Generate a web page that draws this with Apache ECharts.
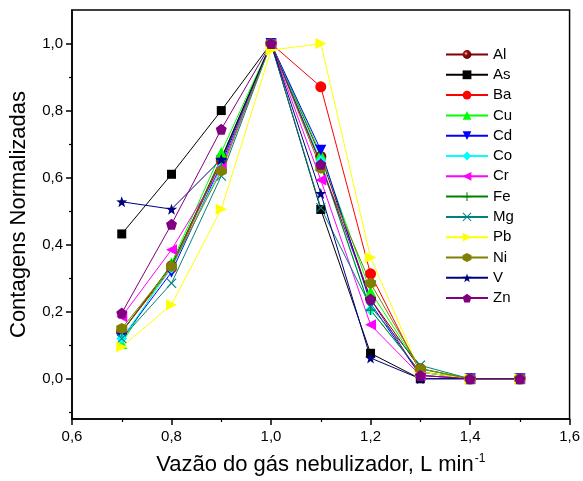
<!DOCTYPE html>
<html>
<head>
<meta charset="utf-8">
<script src="https://cdn.jsdelivr.net/npm/echarts@6/dist/echarts.min.js"></script>
<style>
  html, body { margin: 0; padding: 0; background: #fff; }
  #chart { width: 583px; height: 481px; }
</style>
</head>
<body>
<div id="chart"></div>
<script>
// Gas flow rates (L/min)
const flows = [0.7, 0.8, 0.9, 1.0, 1.1, 1.2, 1.3, 1.4, 1.5];

// Normalized counts per element
const Al = [0.140, 0.337, 0.658, 1.0, 0.663, 0.238, 0.030, 0, 0];
const As = [0.432, 0.610, 0.800, 1.0, 0.505, 0.076, 0.000, 0, 0];
const Ba = [0.140, 0.330, 0.650, 1.0, 0.871, 0.313, 0.020, 0, 0];
const Cu = [0.105, 0.345, 0.676, 1.0, 0.670, 0.260, 0.030, 0, 0];
const Cd = [0.120, 0.318, 0.640, 1.0, 0.682, 0.225, 0.010, 0, 0];
const Co = [0.120, 0.330, 0.630, 1.0, 0.650, 0.205, 0.020, 0, 0];
const Cr = [0.185, 0.385, 0.630, 1.0, 0.593, 0.161, 0.010, 0, 0];
const Fe = [0.140, 0.340, 0.650, 1.0, 0.643, 0.205, 0.020, 0, 0];
const Mg = [0.120, 0.285, 0.605, 1.0, 0.510, 0.215, 0.040, 0, 0];
const Pb = [0.095, 0.221, 0.506, 0.980, 1.0, 0.362, 0.020, 0, 0];
const Ni = [0.150, 0.335, 0.620, 1.0, 0.628, 0.285, 0.030, 0, 0];
const V  = [0.528, 0.506, 0.655, 1.0, 0.553, 0.062, 0.000, 0, 0];
const Zn = [0.196, 0.461, 0.744, 1.0, 0.640, 0.238, 0.010, 0, 0];

const yMajorTicks = [0, 0.2, 0.4, 0.6, 0.8, 1.0];
const yMinorTicks = [-0.1, 0.1, 0.3, 0.5, 0.7, 0.9];

// Marker shapes
const SYM = {
  triDown: 'path://M0,0L10,0L5,9Z',
  triLeft: 'path://M9,0L9,10L0,5Z',
  triRight: 'path://M0,0L0,10L9,5Z',
  plus: 'path://M4.4,0H5.6V4.4H10V5.6H5.6V10H4.4V5.6H0V4.4H4.4Z',
  cross: 'path://M0.8,0L5,4.2L9.2,0L10,0.8L5.8,5L10,9.2L9.2,10L5,5.8L0.8,10L0,9.2L4.2,5L0,0.8Z',
  hexagon: 'path://M5,0L9.33,2.5L9.33,7.5L5,10L0.67,7.5L0.67,2.5Z',
  star: 'path://M5,0L6.18,3.38L9.76,3.45L6.9,5.62L7.94,9.05L5,7L2.06,9.05L3.1,5.62L0.24,3.45L3.82,3.38Z',
  pentagon: 'path://M5,0L9.76,3.45L7.94,9.05L2.06,9.05L0.24,3.45Z'
};

const ball = {
  type: 'radial', x: 0.38, y: 0.38, r: 0.65,
  colorStops: [
    { offset: 0, color: '#ffe0e0' },
    { offset: 0.3, color: '#a01010' },
    { offset: 1, color: '#5a0000' }
  ]
};

const defs = [
  { name: 'Al', data: Al, color: '#800000', symbol: 'circle', size: 11, fill: ball },
  { name: 'As', data: As, color: '#000000', symbol: 'rect', size: 9 },
  { name: 'Ba', data: Ba, color: '#ff0000', symbol: 'circle', size: 11 },
  { name: 'Cu', data: Cu, color: '#00ff00', symbol: 'triangle', size: 11 },
  { name: 'Cd', data: Cd, color: '#0000ff', symbol: SYM.triDown, size: 11 },
  { name: 'Co', data: Co, color: '#00ffff', symbol: 'diamond', size: 11 },
  { name: 'Cr', data: Cr, color: '#ff00ff', symbol: SYM.triLeft, size: 11 },
  { name: 'Fe', data: Fe, color: '#008000', symbol: SYM.plus, size: 10 },
  { name: 'Mg', data: Mg, color: '#008080', symbol: SYM.cross, size: 10 },
  { name: 'Pb', data: Pb, color: '#ffff00', symbol: SYM.triRight, size: 11 },
  { name: 'Ni', data: Ni, color: '#808000', symbol: SYM.hexagon, size: 11 },
  { name: 'V',  data: V,  color: '#000080', symbol: SYM.star, size: 11 },
  { name: 'Zn', data: Zn, color: '#800080', symbol: SYM.pentagon, size: 11 }
];

const series = defs.map(d => ({
  name: d.name,
  type: 'line',
  data: flows.map((x, i) => [x, d.data[i]]),
  symbol: d.symbol,
  symbolSize: d.size,
  showAllSymbol: true,
  lineStyle: { color: d.color, width: 1 },
  itemStyle: { color: d.fill || d.color },
  emphasis: { disabled: true },
  animation: false
}));

const fmt = v => v.toFixed(1).replace('.', ',');
const FONT = 'Liberation Sans, Arial, sans-serif';

const chart = echarts.init(document.getElementById('chart'), null, { renderer: 'canvas' });
chart.setOption({
  backgroundColor: '#ffffff',
  textStyle: { fontFamily: FONT },
  grid: {
    left: 71, right: 10, top: 10, bottom: 60,
    show: true, borderColor: '#000', borderWidth: 1.5, backgroundColor: 'transparent'
  },
  legend: {
    orient: 'vertical',
    left: 440, top: 42,
    itemWidth: 42, itemHeight: 11, itemGap: 5.3,
    textStyle: { fontSize: 15, color: '#000', fontFamily: FONT },
    data: defs.map(d => ({ name: d.name, itemStyle: { color: d.fill || d.color } }))
  },
  xAxis: {
    type: 'value', min: 0.6, max: 1.6, interval: 0.2,
    name: 'Vazão do gás nebulizador, L min{sup|-1}',
    nameLocation: 'middle', nameGap: 34,
    nameTextStyle: {
      fontSize: 22, color: '#000', fontFamily: FONT,
      rich: { sup: { fontSize: 12, verticalAlign: 'top', padding: [0, 0, 12, 1], color: '#000', fontFamily: FONT } }
    },
    axisLine: { show: true, onZero: false, lineStyle: { color: '#000', width: 1.5 } },
    axisTick: { show: true, inside: false, length: 6, lineStyle: { color: '#000', width: 1.5 } },
    minorTick: { show: true, splitNumber: 2, length: 3, lineStyle: { color: '#000', width: 1.2 } },
    axisLabel: { fontSize: 15, color: '#000', margin: 10, formatter: fmt },
    splitLine: { show: false }
  },
  yAxis: [{
    type: 'value', min: -0.12, max: 1.1,
    name: 'Contagens Normalizadas',
    nameLocation: 'middle', nameGap: 42,
    nameTextStyle: { fontSize: 22, color: '#000', fontFamily: FONT },
    axisLine: { show: true, onZero: false, lineStyle: { color: '#000', width: 1.5 } },
    axisTick: { show: true, inside: false, length: 6, customValues: yMajorTicks, lineStyle: { color: '#000', width: 1.5 } },
    axisLabel: { fontSize: 15, color: '#000', margin: 9, customValues: yMajorTicks, formatter: fmt },
    splitLine: { show: false }
  }, {
    type: 'value', min: -0.12, max: 1.1, position: 'left',
    axisLine: { show: false },
    axisTick: { show: true, inside: false, length: 3, customValues: yMinorTicks, lineStyle: { color: '#000', width: 1.2 } },
    axisLabel: { show: false, customValues: yMinorTicks },
    splitLine: { show: false }
  }],
  series: series
});
</script>
</body>
</html>
